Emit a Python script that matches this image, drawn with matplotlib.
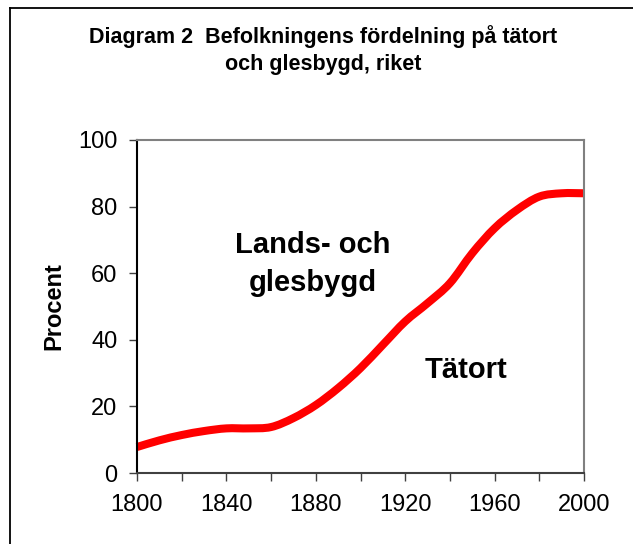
import numpy as np
import matplotlib.pyplot as plt
from matplotlib.lines import Line2D
from matplotlib.path import Path
from matplotlib.patches import PathPatch

# andel av befolkningen i tätort (procent)
ar = [1800, 1810, 1820, 1830, 1840, 1850, 1860, 1870, 1880, 1890, 1900,
      1910, 1920, 1930, 1940, 1950, 1960, 1970, 1980, 1990, 2000]
tatort = [7.8, 9.8, 11.4, 12.6, 13.4, 13.4, 13.8, 16.5, 20.4, 25.5, 31.5,
          38.5, 45.5, 51.0, 57.0, 66.0, 73.5, 79.0, 83.0, 84.0, 84.0]
x_labels = [1800, 1840, 1880, 1920, 1960, 2000]
y_ticks = [0, 20, 40, 60, 80, 100]

plt.rcParams['font.family'] = ['Liberation Sans', 'DejaVu Sans']

fig = plt.figure(figsize=(6.33, 5.44), dpi=100)
ax = fig.add_axes([137 / 633, 1 - 473 / 544, 447 / 633, 333 / 544])

# utjämnad linje som i Excel: Bezierkurvor genom punkterna (Catmull-Rom)
p = np.column_stack([ar, tatort]).astype(float)
verts = [p[0]]
codes = [Path.MOVETO]
for i in range(len(p) - 1):
    p0 = p[i - 1] if i > 0 else p[i]
    p3 = p[i + 2] if i + 2 < len(p) else p[i + 1]
    c1 = p[i] + (p[i + 1] - p0) / 6
    c2 = p[i + 1] - (p3 - p[i]) / 6
    verts += [c1, c2, p[i + 1]]
    codes += [Path.CURVE4] * 3
ax.add_patch(PathPatch(Path(verts, codes), facecolor='none', edgecolor='#ff0000',
                       linewidth=5.8, capstyle='butt', joinstyle='round',
                       transform=ax.transData, clip_on=False))

ax.set_xlim(1800, 2000)
ax.set_ylim(0, 100)
ax.set_xticks(x_labels)
ax.set_xticks(np.arange(1800, 2001, 20), minor=True)
ax.set_yticks(y_ticks)
ax.tick_params(axis='both', which='both', direction='out', length=6, width=1,
               labelsize=17, color='#404040')
ax.tick_params(axis='x', pad=9)
ax.tick_params(axis='y', pad=8)

ax.spines['left'].set_color('black')
ax.spines['bottom'].set_color('#404040')
ax.spines['top'].set_color('#808080')
ax.spines['right'].set_color('#808080')
for s in ax.spines.values():
    s.set_linewidth(1.5)

ax.set_ylabel('Procent', fontsize=17, fontweight='bold', labelpad=9)

ax.text(1878.5, 62.8, 'Lands- och\nglesbygd', fontsize=21, fontweight='bold',
        ha='center', va='center', linespacing=1.48)
ax.text(1947, 31, 'Tätort', fontsize=21, fontweight='bold',
        ha='center', va='center')

fig.text(0.51, 1 - 50 / 544, 'Diagram 2  Befolkningens fördelning på tätort\noch glesbygd, riket',
         fontsize=15.5, fontweight='bold', ha='center', va='center', linespacing=1.35)

# ram runt diagrammet
fx = 9.5 / 633
fy = 1 - 8 / 544
fig.add_artist(Line2D([fx, fx], [0, fy], color='black', linewidth=1.3))
fig.add_artist(Line2D([fx, 1], [fy, fy], color='black', linewidth=1.3))

fig.savefig('out.png', dpi=100)
